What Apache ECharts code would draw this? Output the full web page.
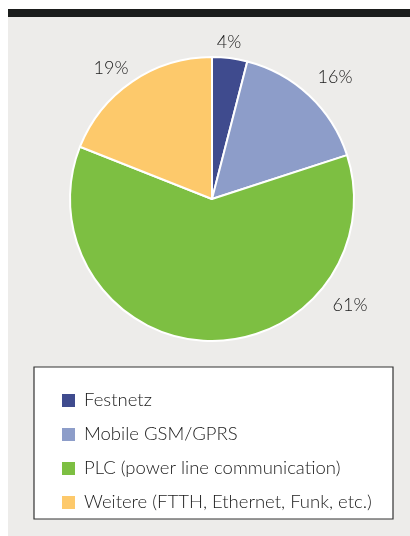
<!DOCTYPE html>
<html>
<head>
<meta charset="utf-8">
<script src="https://cdn.jsdelivr.net/npm/echarts@6/dist/echarts.min.js"></script>
<style>
  html, body { margin: 0; padding: 0; background: #ffffff; }
  #chart { width: 410px; height: 536px; }
</style>
</head>
<body>
<div id="chart"></div>
<script>
// Anteile der Kommunikationswege
const categories = ['Festnetz', 'Mobile GSM/GPRS', 'PLC (power line communication)', 'Weitere (FTTH, Ethernet, Funk, etc.)']
const shares = [4, 16, 61, 19]
const colors = ['#3f4b8e', '#8d9dc9', '#7dbf42', '#fdc96b']
// Position der Prozentangaben
const labelPos = [[229, 42], [335, 77], [350, 305], [111, 68]]

const myChart = echarts.init(document.getElementById('chart'))

myChart.setOption({
  animation: false,
  textStyle: { fontFamily: 'Lato' },
  graphic: [
    { type: 'rect', shape: { x: 8, y: 17, width: 402, height: 519 }, style: { fill: '#edecea' }, z: -10 },
    { type: 'rect', shape: { x: 8, y: 9, width: 402, height: 8 }, style: { fill: '#1b1d1c' }, z: -10 },
    { type: 'rect', shape: { x: 34, y: 367, width: 359, height: 152 }, style: { fill: '#ffffff', stroke: '#333', lineWidth: 1.2 }, z: -5 }
  ],
  legend: {
    orient: 'vertical',
    left: 55,
    top: 386,
    itemWidth: 15,
    itemHeight: 15,
    itemGap: 15,
    icon: 'rect',
    selectedMode: false,
    textStyle: { fontSize: 18.5, lineHeight: 17, color: '#1a1a1a', fontWeight: 300, padding: [0, 0, 0, 3] },
    data: categories
  },
  series: [
    {
      type: 'pie',
      center: [212, 199],
      radius: 142,
      startAngle: 90,
      clockwise: true,
      avoidLabelOverlap: false,
      itemStyle: { borderColor: '#ffffff', borderWidth: 2 },
      label: {
        show: true,
        position: 'outside',
        formatter: '{c}%',
        fontSize: 18,
        fontWeight: 300,
        color: '#1a1a1a'
      },
      labelLine: { show: false },
      labelLayout: (params) => ({
        x: labelPos[params.dataIndex][0],
        y: labelPos[params.dataIndex][1],
        align: 'center',
        verticalAlign: 'middle'
      }),
      emphasis: { disabled: true },
      data: categories.map((name, i) => ({
        name,
        value: shares[i],
        itemStyle: { color: colors[i] }
      }))
    }
  ]
})
</script>
</body>
</html>
